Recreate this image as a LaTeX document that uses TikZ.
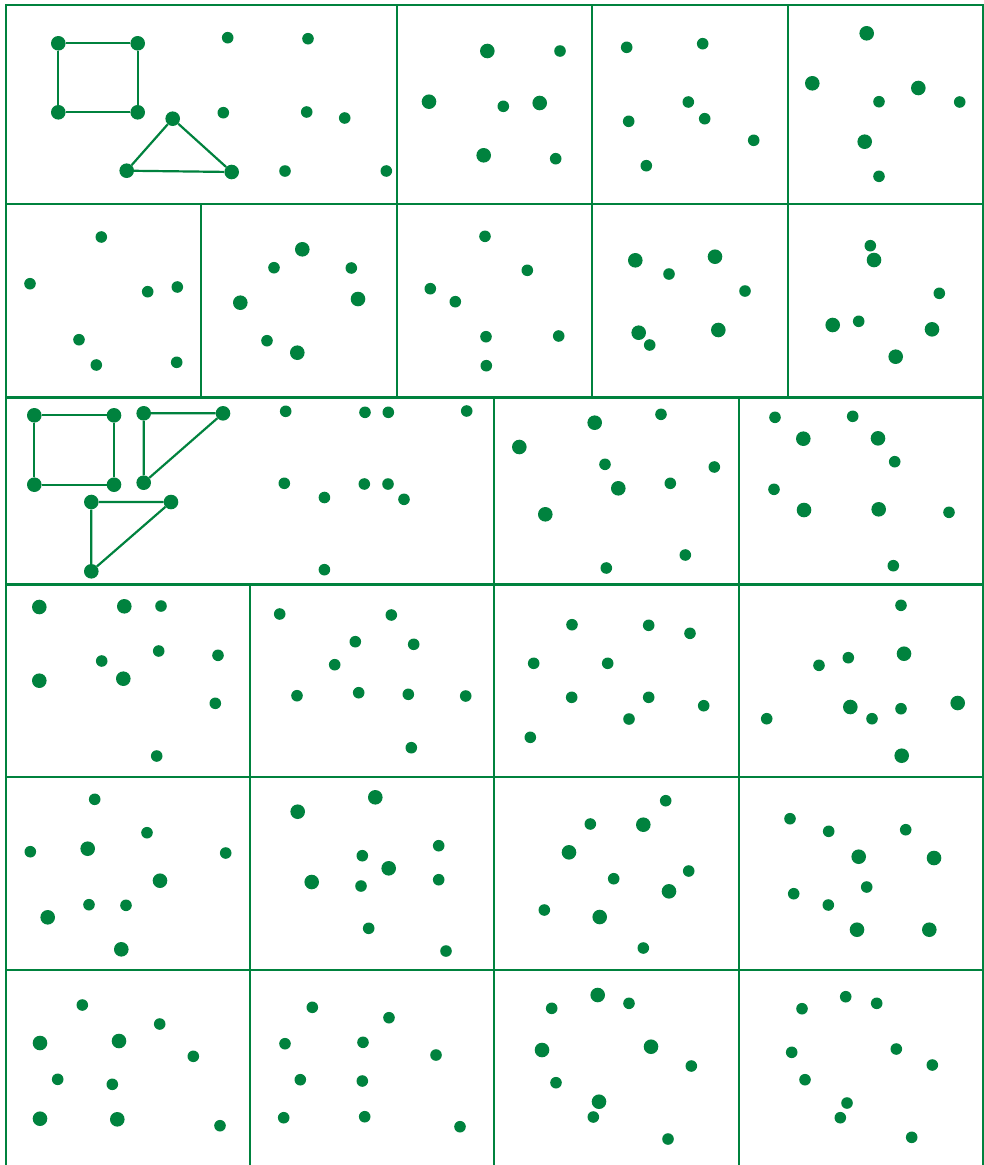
\documentclass[tikz,border=0pt]{standalone}
\definecolor{grn}{RGB}{0,130,62}
\tikzset{
  grid/.style={draw=grn, line width=2.4pt},
  edge/.style={draw=grn, line width=2.2pt},
  bigdot/.style={circle, fill=grn, inner sep=0pt, minimum size=14.6pt},
  smalldot/.style={circle, fill=grn, inner sep=0pt, minimum size=11.6pt}
}
\begin{document}
\begin{tikzpicture}[x=1pt, y=-1pt]
\fill[white] (0,0) rectangle (984,1165);
\useasboundingbox (0,0) rectangle (984,1165);
% grid
\draw[grid] (6,1165) -- (6,5) -- (983,5) -- (983,1165);
\foreach \yy in {204,397.5,584.5,777,970} \draw[grid] (6,\yy) -- (983,\yy);
\foreach \xx in {397,592,788} \draw[grid] (\xx,5) -- (\xx,204);
\foreach \xx in {201,397,592,788} \draw[grid] (\xx,204) -- (\xx,397.5);
\foreach \xx in {494,739} \draw[grid] (\xx,397.5) -- (\xx,584.5);
\foreach \xx in {250,494,739} \draw[grid] (\xx,584.5) -- (\xx,1165);
% shapes row 1
\node[bigdot] (sqa) at (58.3,43.3) {};
\node[bigdot] (sqb) at (137.7,43.3) {};
\node[bigdot] (sqc) at (137.7,112.3) {};
\node[bigdot] (sqd) at (58.3,112.3) {};
\node[bigdot] (ta) at (172.7,118.7) {};
\node[bigdot] (tb) at (126.7,170.7) {};
\node[bigdot] (tc) at (231.7,172) {};
\draw[edge] (sqa) -- (sqb) -- (sqc) -- (sqd) -- (sqa);
\draw[edge] (ta) -- (tb) -- (tc) -- (ta);
% shapes row 3
\node[bigdot] (qa) at (34.3,415.3) {};
\node[bigdot] (qb) at (114,415.3) {};
\node[bigdot] (qc) at (114,484.7) {};
\node[bigdot] (qd) at (34.3,484.7) {};
\draw[edge] (qa) -- (qb) -- (qc) -- (qd) -- (qa);
\node[bigdot] (ua) at (143.7,413.3) {};
\node[bigdot] (ub) at (223,413.3) {};
\node[bigdot] (uc) at (143.7,482.7) {};
\draw[edge] (ua) -- (ub) -- (uc) -- (ua);
\node[bigdot] (va) at (91.3,502) {};
\node[bigdot] (vb) at (171,502) {};
\node[bigdot] (vc) at (91.3,571.3) {};
\draw[edge] (va) -- (vb) -- (vc) -- (va);
% big dots
\foreach \px/\py [count=\i] in {
487.3/51, 429/101.7, 539.7/103, 483.7/155.3,
866.7/33.3, 812.3/83.3, 918.3/88, 864.7/141.7,
302.3/249.3, 240.3/302.7, 297.3/352.7, 358/299,
635.3/260.3, 638.7/332.7, 715/256.7, 718.3/330,
874/260, 832.7/325, 932/329.3, 895.7/356.7,
594.7/422.7, 519.3/447, 618.3/488.3, 545.3/514.3,
803.3/438.7, 878/438.3, 804/510, 878.7/509.3,
39.3/607, 124.3/606.3, 39.3/680.7, 123.3/678.7,
904/653.7, 957.7/703, 850.3/707, 901.7/755.7,
87.7/848.7, 160/880.7, 47.7/917.3, 121.3/949.3,
297.7/811.7, 311.7/882, 375.3/797.3, 388.7/868.3,
643.3/824.7, 569/852.3, 599.7/917, 669/891.3,
858.7/856.7, 934/858, 857/929.7, 929.3/929.7,
40/1043, 119/1041, 40/1118.7, 117.3/1119.3,
597.7/995, 542/1050, 651/1046.7, 599/1101.7}
  \node[bigdot] (b\i) at (\px,\py) {};
% small dots
\foreach \px/\py [count=\i] in {
227.7/37.7, 308/38.7, 223.3/112.7, 306.7/112, 344.7/118, 285/171, 386.3/171,
560/51, 503.3/106.3, 555.7/158.7,
626.7/47.3, 628.7/121.3, 646.3/165.7, 702.7/43.7, 688.3/102, 704.7/118.7, 753.7/140.3,
879/101.7, 959.7/102, 879/176.3,
101.3/237, 30/283.7, 147.7/291.7, 177.3/287, 79/339.7, 96.3/365, 176.7/362.3,
274/267.7, 267/340.7, 351.3/268,
485/236.3, 527.3/270.3, 430.3/288.7, 455.3/301.7, 486/336.7, 558.7/336, 486.3/365.7,
649.7/345, 669/274, 745/291,
870.3/245.7, 939.3/293.3, 858.7/321.3,
285.7/411.3, 284.3/483.3, 365/412.3, 388.3/412.3, 466.7/411, 364.3/484, 388/484, 404/499.3, 324.4/497.5, 324.4/569.7,
605/464.3, 606.3/568, 661/414.3, 714.3/467, 670.3/483.3, 685.3/555,
775/417.3, 852.7/416.3, 894.7/461.7, 774/489.3, 949/512.3, 893.3/565.7,
161/606, 101.7/661, 158.7/651, 218/655.3, 215.3/703.3, 156.7/756,
279.7/614, 297/695.7, 391.3/615, 355.3/641.7, 413.7/644.3, 334.7/664.7, 358.7/692.7, 408.3/694.3, 465.7/696, 411.3/747.7,
572/624.7, 648.7/625.3, 533.7/663.3, 607.7/663.3, 571.7/697.3, 648.7/697.3, 629/719, 530.3/737.3, 690/633.3, 703.7/705.7,
901/605.3, 819/665.3, 848.3/657.7, 872/718.7, 901/708.7, 766.7/718.7,
94.7/799.3, 147/832.7, 30.3/851.7, 225.7/853, 89/904.7, 126/905.3,
362.3/855.7, 361/886, 438.7/845.7, 438.7/879.7, 368.7/928.3, 446/951,
590.3/824, 613.7/878.7, 544.3/910, 643.3/948, 665.7/800.7, 688.7/871,
790/818.7, 828.7/831.3, 905.7/829.7, 866.7/887, 793.7/893.7, 828.3/905,
82.3/1005, 159.7/1024, 193.3/1056.3, 57.7/1079.3, 112.3/1084.3, 220/1125.7,
312.3/1007.3, 285/1043.7, 300.3/1079.7, 283.7/1117.7, 389/1017.7, 363/1042.3, 436/1055, 362.3/1081, 364.7/1116.7, 460/1126.7,
551.7/1008.3, 629/1003.3, 556/1082.7, 593.3/1117, 691.3/1066, 668/1139,
802/1008.7, 845.7/996.7, 876.7/1003.3, 791.7/1052.3, 896.3/1049, 932.3/1065, 805/1079.7, 847/1103, 840.3/1117.7, 911.7/1137.3}
  \node[smalldot] (s\i) at (\px,\py) {};
\end{tikzpicture}
\end{document}
